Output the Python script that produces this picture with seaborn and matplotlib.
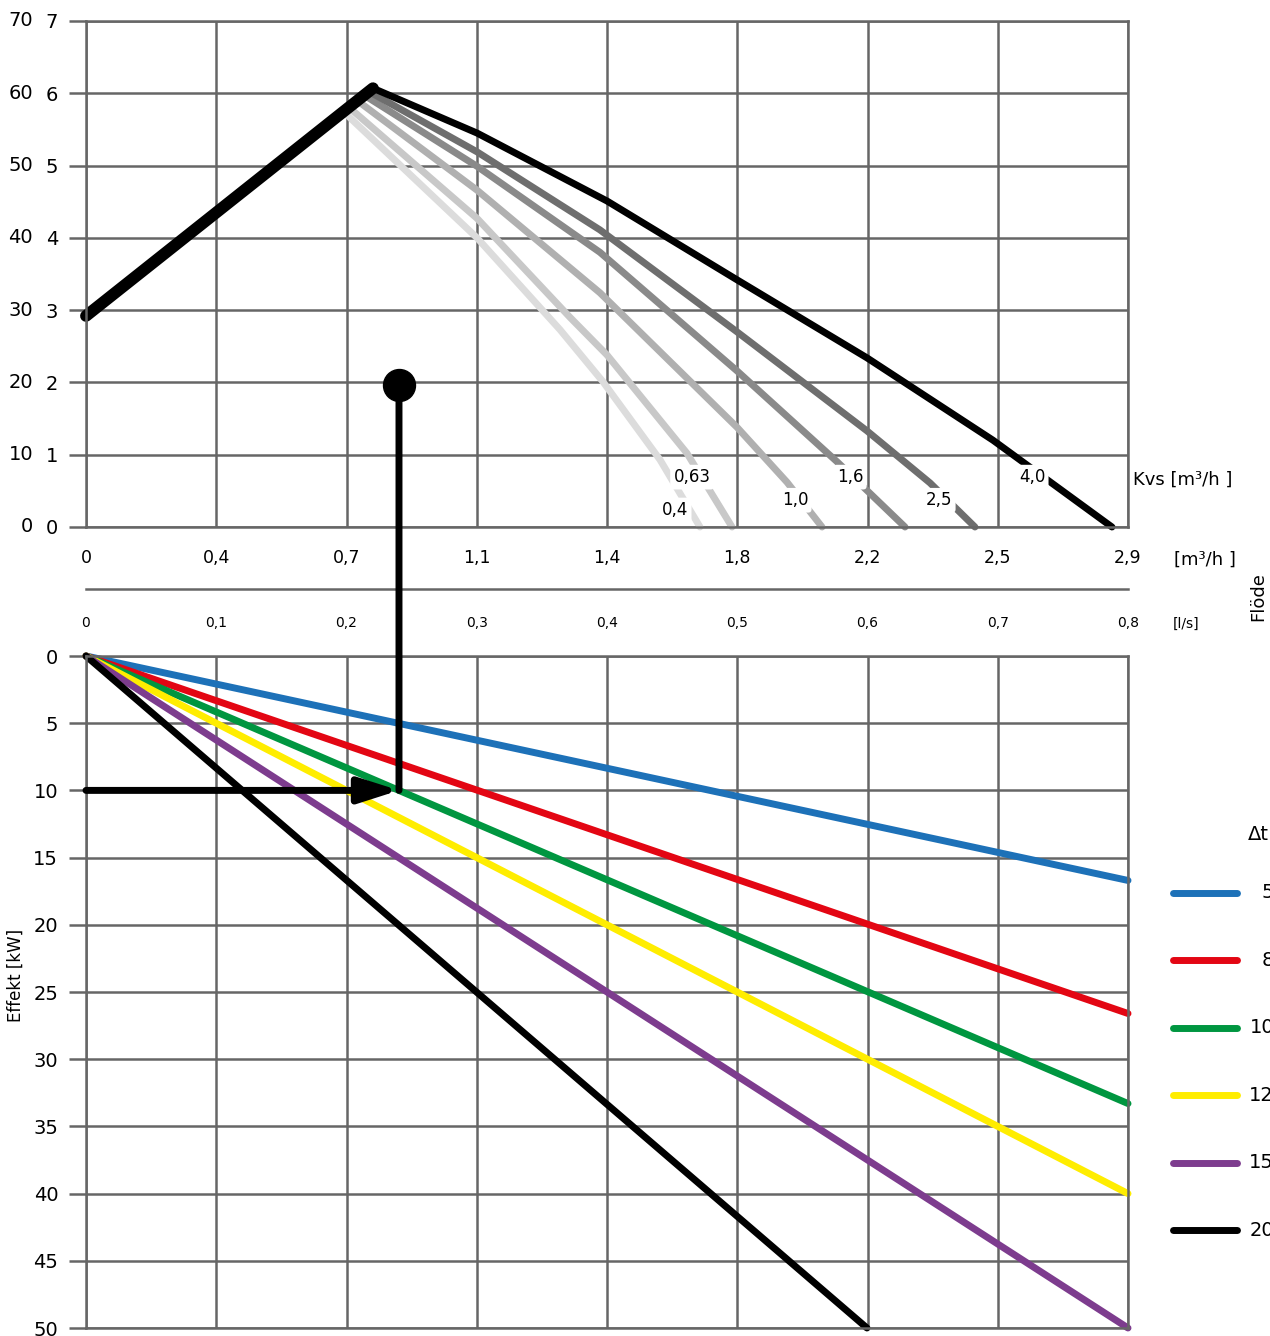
import pandas as pd
import seaborn as sns
import matplotlib.pyplot as plt
from matplotlib.lines import Line2D
from matplotlib.patches import ConnectionPatch
from matplotlib import transforms

# --- data ---
# flow axis (l/s) and its m3/h equivalents
flow_ls = [0.0, 0.1, 0.2, 0.3, 0.4, 0.5, 0.6, 0.7, 0.8]
flow_ls_labels = ["0", "0,1", "0,2", "0,3", "0,4", "0,5", "0,6", "0,7", "0,8"]
flow_m3h_labels = ["0", "0,4", "0,7", "1,1", "1,4", "1,8", "2,2", "2,5", "2,9"]

# top panel ticks: head [m] and pressure [kPa]
head_ticks = [0, 1, 2, 3, 4, 5, 6, 7]
kpa_labels = ["0", "10", "20", "30", "40", "50", "60", "70"]

# pump curve up to the peak
pump_flow = [0.0, 0.2203]
pump_head = [2.92, 6.07]

# remaining head per valve Kvs
kvs_names = ["0,4", "0,63", "1,0", "1,6", "2,5", "4,0"]
kvs_colors = ["#dcdcdc", "#c8c8c8", "#b0b0b0", "#8a8a8a", "#6e6e6e", "#000000"]
flow_kvs04 = [0.2004, 0.3002, 0.3639, 0.3969, 0.4407, 0.4714]
head_kvs04 = [5.70, 4.00, 2.73, 2.01, 0.93, 0.0]
flow_kvs063 = [0.2042, 0.3002, 0.3716, 0.4000, 0.4614, 0.4960]
head_kvs063 = [5.77, 4.27, 2.90, 2.38, 1.02, 0.0]
flow_kvs10 = [0.2104, 0.3002, 0.3946, 0.4998, 0.5382, 0.5651]
head_kvs10 = [5.87, 4.66, 3.24, 1.38, 0.62, 0.0]
flow_kvs16 = [0.2157, 0.3002, 0.3946, 0.4998, 0.5774, 0.6288]
head_kvs16 = [5.95, 4.99, 3.80, 2.16, 0.89, 0.0]
flow_kvs25 = [0.2196, 0.3002, 0.3946, 0.4998, 0.5996, 0.6480, 0.6825]
head_kvs25 = [6.00, 5.19, 4.11, 2.70, 1.33, 0.61, 0.0]
flow_kvs40 = [0.2203, 0.3002, 0.4000, 0.4998, 0.5996, 0.6964, 0.7877]
head_kvs40 = [6.07, 5.45, 4.51, 3.42, 2.34, 1.20, 0.0]
kvs_label_x = [0.4522, 0.4653, 0.5443, 0.5866, 0.6549, 0.7263]
kvs_label_y = [0.235, 0.69, 0.37, 0.69, 0.37, 0.69]

# bottom panel: power per delta t, straight lines from the origin
dt_values = [5, 8, 10, 12, 15, 20]
dt_colors = ["#1d71b8", "#e30613", "#009640", "#ffed00", "#7d3c8e", "#000000"]
end_flow = [0.8, 0.8, 0.8, 0.8, 0.8, 0.5996]
end_power = [16.7, 26.6, 33.3, 40.0, 50.0, 50.0]
power_ticks = [0, 5, 10, 15, 20, 25, 30, 35, 40, 45, 50]

# worked example
ex_flow = 0.2403
ex_head = 1.96
ex_power = 10

# --- build frames ---
top_rows = []
for name, fl, hd in zip(kvs_names,
                        [flow_kvs04, flow_kvs063, flow_kvs10, flow_kvs16, flow_kvs25, flow_kvs40],
                        [head_kvs04, head_kvs063, head_kvs10, head_kvs16, head_kvs25, head_kvs40]):
    for f, h in zip(fl, hd):
        top_rows.append({"flow": f, "head": h, "kvs": name})
df_top = pd.DataFrame(top_rows)
df_pump = pd.DataFrame({"flow": pump_flow, "head": pump_head})

bot_rows = []
for dt, f, p in zip(dt_values, end_flow, end_power):
    bot_rows.append({"flow": 0.0, "power": 0.0, "dt": dt})
    bot_rows.append({"flow": f, "power": p, "dt": dt})
df_bot = pd.DataFrame(bot_rows)

sns.set_style("white")
plt.rcParams["font.family"] = ["DejaVu Sans"]
plt.rcParams["text.color"] = "black"
plt.rcParams["axes.labelcolor"] = "black"
plt.rcParams["xtick.labelcolor"] = "black"
plt.rcParams["ytick.labelcolor"] = "black"

W, H = 1270, 1336
def fx(px):
    return px / W
def fy(py):
    return 1 - py / H
def box(x0, y0, x1, y1):
    return [fx(x0), fy(y1), (x1 - x0) / W, (y1 - y0) / H]

fig = plt.figure(figsize=(12.7, 13.36), dpi=100)
ax_top = fig.add_axes(box(86, 21, 1128, 527))
ax_mid = fig.add_axes(box(86, 587.5, 1128, 588.5))
ax_bot = fig.add_axes(box(86, 656, 1128, 1328))

grid_col = "#666666"
for ax in (ax_top, ax_bot):
    ax.set_xlim(0, 0.8)
    ax.set_xticks(flow_ls)
    ax.grid(True, color=grid_col, lw=1.8)
    ax.set_axisbelow(True)
    for sp in ax.spines.values():
        sp.set_color(grid_col)
        sp.set_linewidth(1.8)
    ax.tick_params(axis="x", length=0, labelbottom=False)
    ax.tick_params(axis="y", left=True, length=12, width=1.8, color=grid_col, pad=8,
                   labelsize=14, labelcolor="black")

# top panel
sns.lineplot(data=df_top, x="flow", y="head", hue="kvs", hue_order=kvs_names,
             palette=kvs_colors, lw=5, legend=False, sort=False, estimator=None,
             solid_capstyle="round", clip_on=False, ax=ax_top)
sns.lineplot(data=df_pump, x="flow", y="head", color="black", lw=8.5, legend=False,
             sort=False, estimator=None, solid_capstyle="round", clip_on=False, ax=ax_top)
ax_top.set_ylim(0, 7)
ax_top.set_yticks(head_ticks, [str(v) for v in head_ticks])
ax_top.set_xlabel("")
ax_top.set_ylabel("")
tr = transforms.blended_transform_factory(ax_top.transAxes, ax_top.transData)
for v, lab in zip(head_ticks, kpa_labels):
    ax_top.text(-0.0508, v, lab, transform=tr, ha="right", va="center", fontsize=14)
for lab, x, y in zip(kvs_names, kvs_label_x, kvs_label_y):
    ax_top.text(x, y, lab, ha="center", va="center", fontsize=12, zorder=6,
                bbox=dict(boxstyle="round,pad=0.2", fc="white", ec="none"))
ax_top.plot([ex_flow], [ex_head], "o", ms=23, color="black", clip_on=False, zorder=10)

# flow scale between the panels
ax_mid.set_xlim(0, 0.8)
ax_mid.patch.set_visible(False)
for k in ("left", "right", "top"):
    ax_mid.spines[k].set_visible(False)
ax_mid.spines["bottom"].set_color(grid_col)
ax_mid.spines["bottom"].set_linewidth(1.8)
ax_mid.set_yticks([])
ax_mid.set_xticks(flow_ls, flow_ls_labels)
ax_mid.tick_params(axis="x", direction="inout", length=14, width=1.8, color=grid_col,
                   labelsize=10, pad=13, labelcolor="black")
sec = ax_mid.secondary_xaxis("top")
sec.set_xticks(flow_ls, flow_m3h_labels)
sec.tick_params(length=0, labelsize=12.5, pad=15, labelcolor="black")
for sp in sec.spines.values():
    sp.set_visible(False)

# bottom panel
sns.lineplot(data=df_bot, x="flow", y="power", hue="dt", hue_order=dt_values,
             palette=dt_colors, lw=5, legend=False, sort=False, estimator=None,
             solid_capstyle="round", clip_on=False, ax=ax_bot)
ax_bot.set_ylim(50, 0)
ax_bot.set_yticks(power_ticks, [str(v) for v in power_ticks])
ax_bot.set_xlabel("")
ax_bot.set_ylabel("")
fig.text(fx(16), fy(975), "Effekt [kW]", ha="center", va="center", rotation=90, fontsize=12)

# worked example: vertical drop and arrow
con = ConnectionPatch(xyA=(ex_flow, ex_head), coordsA=ax_top.transData,
                      xyB=(ex_flow, ex_power), coordsB=ax_bot.transData,
                      color="black", lw=5, zorder=10)
fig.add_artist(con)
ax_bot.annotate("", xy=(ex_flow, ex_power), xytext=(0, ex_power),
                arrowprops=dict(arrowstyle="-|>,head_length=0.5,head_width=0.16",
                                color="black", lw=5, mutation_scale=48,
                                shrinkA=0, shrinkB=0),
                annotation_clip=False, zorder=10)

# side texts
fig.text(fx(1133), fy(480), "Kvs [m³/h ]", ha="left", va="center", fontsize=13)
fig.text(fx(1174), fy(560), "[m³/h ]", ha="left", va="center", fontsize=13)
fig.text(fx(1173), fy(624), "[l/s]", ha="left", va="center", fontsize=10)
fig.text(fx(1258), fy(597), "Flöde", ha="center", va="center", rotation=90, fontsize=13)
fig.text(fx(1269), fy(835), "Δt", ha="right", va="center", fontsize=14)
for i, (dt, col) in enumerate(zip(dt_values, dt_colors)):
    yy = fy(893 + i * 67.4)
    fig.add_artist(Line2D([fx(1173), fx(1237)], [yy, yy], color=col, lw=5,
                          solid_capstyle="round"))
    fig.text(fx(1274), yy, str(dt), ha="right", va="center", fontsize=14)

fig.savefig("out.png", dpi=100)
